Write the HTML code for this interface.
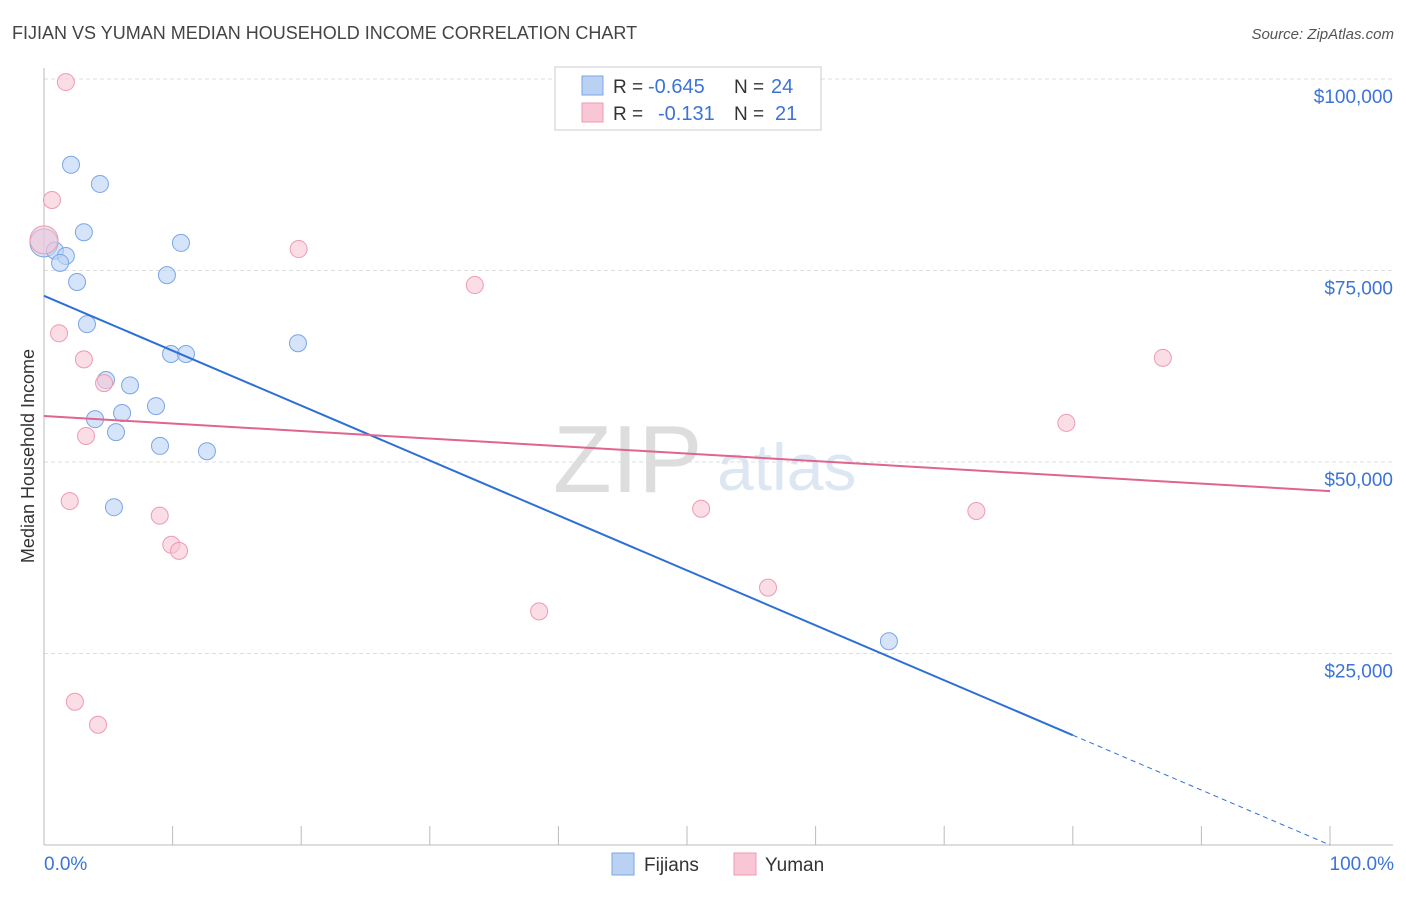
<!DOCTYPE html>
<html><head><meta charset="utf-8"><style>
body{margin:0;background:#fff;font-family:"Liberation Sans",sans-serif}
svg text{font-family:"Liberation Sans",sans-serif}
</style></head><body>
<svg id="c" width="1406" height="892" xmlns="http://www.w3.org/2000/svg">
<text x="12" y="39" font-size="18" fill="#444">FIJIAN VS YUMAN MEDIAN HOUSEHOLD INCOME CORRELATION CHART</text>
<text x="1394" y="39" font-size="15" fill="#555" text-anchor="end" font-style="italic">Source: ZipAtlas.com</text>
<text x="0" y="0" transform="translate(34,456) rotate(-90)" font-size="18" fill="#333" text-anchor="middle">Median Household Income</text>
<text x="553" y="492" font-size="96" fill="#ddd" font-family="Liberation Serif">ZIP</text>
<text x="717" y="490" font-size="66" fill="#dde6f3">atlas</text>
<g id="grid"></g><g id="axes"></g><g id="pts"></g><g id="lines"></g>
<g>
<rect x="555" y="67" width="266" height="63" fill="#fff" stroke="#ccc"/>
<rect x="582" y="76" width="21" height="19" fill="#b9d2f3" stroke="#7aa6e6"/>
<rect x="582" y="103" width="21" height="19" fill="#f9c6d5" stroke="#ee9ab3"/>
<text x="613" y="93" font-size="19" fill="#333">R =</text>
<text x="648" y="93" font-size="20" fill="#3b74d6">-0.645</text>
<text x="734" y="93" font-size="19" fill="#333">N =</text>
<text x="771" y="93" font-size="20" fill="#3b74d6">24</text>
<text x="613" y="120" font-size="19" fill="#333">R =</text>
<text x="658" y="120" font-size="20" fill="#3b74d6">-0.131</text>
<text x="734" y="120" font-size="19" fill="#333">N =</text>
<text x="775" y="120" font-size="20" fill="#3b74d6">21</text>
</g>
<g>
<rect x="612" y="853" width="22" height="22" fill="#b9d2f3" stroke="#7aa6e6"/>
<text x="644" y="871" font-size="19" fill="#333">Fijians</text>
<rect x="734" y="853" width="22" height="22" fill="#f9c6d5" stroke="#ee9ab3"/>
<text x="765" y="871" font-size="19" fill="#333">Yuman</text>
</g>
<text x="44" y="870" font-size="19" fill="#3b74d6">0.0%</text>
<text x="1394" y="870" font-size="19" fill="#3b74d6" text-anchor="end">100.0%</text>
</svg>
<script>
const yTicks=[25000,50000,75000,100000];
const yTickLabels=["$25,000","$50,000","$75,000","$100,000"];
const fijiX=[0,2.1,4.35,3.1,10.65,0.85,1.7,1.25,9.56,2.57,3.34,19.75,9.88,11.04,4.82,6.69,8.71,6.07,3.97,5.6,9.02,12.67,5.44,65.7];
const fijiY=[78600,88800,86300,80000,78600,77600,76900,76000,74400,73500,68000,65500,64100,64100,60700,60000,57300,56400,55600,53900,52100,51400,44100,26600];
const yumaX=[0,1.7,0.62,19.8,33.5,1.17,3.1,4.67,87,79.5,3.27,2.0,9.0,51.1,72.5,9.9,10.5,56.3,38.5,2.4,4.2];
const yumaY=[79000,99600,84200,77800,73100,66800,63400,60300,63600,55100,53400,44900,43000,43900,43600,39200,38400,33600,30500,18700,15700];
const fijiTrend=[71700,0];
const yumaTrend=[56000,46200];
const NS="http://www.w3.org/2000/svg";
const X=p=>44+p*12.86, Y=v=>845-v/25000*191.5;
function mk(g,t,a){const e=document.createElementNS(NS,t);for(const k in a)e.setAttribute(k,a[k]);document.getElementById(g).appendChild(e);return e;}
yTicks.forEach((v,i)=>{
 const l=mk('grid','line',{x1:44,x2:1393,y1:Y(v),y2:Y(v),stroke:'#ddd','stroke-dasharray':'4,3'});
 
 
 const t=mk('grid','text',{x:1393,y:Y(v)+24,'font-size':19,fill:'#3b74d6','text-anchor':'end'});
 t.textContent=yTickLabels[i];
 
 
});
let a=mk('axes','line',{x1:44,x2:44,y1:68,y2:845,stroke:'#bbb'});


a=mk('axes','line',{x1:44,x2:1393,y1:845,y2:845,stroke:'#bbb'});


for(let i=0;i<=10;i++){const t=mk('axes','line',{x1:X(i*10),x2:X(i*10),y1:826,y2:845,stroke:'#bbb'});
 
 }
function pts(xs,ys,fill,stroke,name){xs.forEach((x,i)=>{
 const c=mk('pts','circle',{cx:X(x),cy:Y(ys[i]),r:i==0?14:8.5,fill:fill,'fill-opacity':0.6,stroke:stroke,'stroke-width':1});
 
 });}
pts(fijiX,fijiY,'#b9d2f3','#7aa6e6','fijians-point');
pts(yumaX,yumaY,'#f9c6d5','#ee9ab3','yuman-point');
const fy=p=>fijiTrend[0]+(fijiTrend[1]-fijiTrend[0])*p/100;
let l=mk('lines','line',{x1:X(0),y1:Y(fy(0)),x2:X(80),y2:Y(fy(80)),stroke:'#2d6fd6','stroke-width':2});


l=mk('lines','line',{x1:X(80),y1:Y(fy(80)),x2:X(100),y2:Y(fy(100)),stroke:'#2d6fd6','stroke-width':1,'stroke-dasharray':'5,4'});


l=mk('lines','line',{x1:X(0),y1:Y(yumaTrend[0]),x2:X(100),y2:Y(yumaTrend[1]),stroke:'#e0648f','stroke-width':2});


</script>
</body></html>
